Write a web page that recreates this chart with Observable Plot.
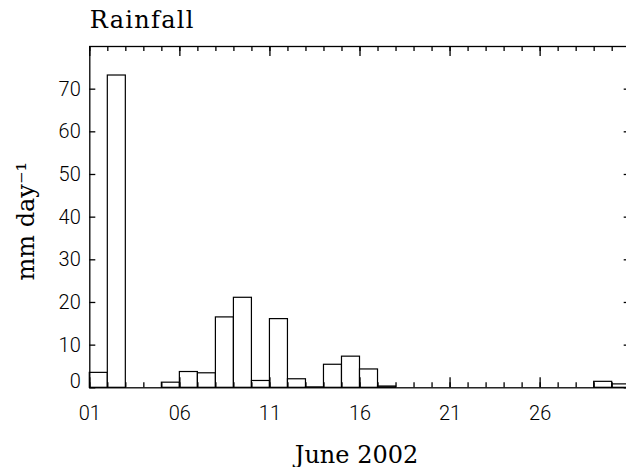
<!DOCTYPE html>
<html>
<head>
<meta charset="utf-8">
<script src="https://cdn.jsdelivr.net/npm/d3@7"></script>
<script src="https://cdn.jsdelivr.net/npm/@observablehq/plot@0.6"></script>
<style>
  html, body { margin: 0; padding: 0; background: #fff; }
  svg { display: block; }
  .title-text text { letter-spacing: 1.3px; }
</style>
</head>
<body>
<div id="chart"></div>
<script>
// ---- data ----
const days = [1, 2, 3, 4, 5, 6, 7, 8, 9, 10, 11, 12, 13, 14, 15, 16, 17, 18, 19, 20, 21, 22, 23, 24, 25, 26, 27, 28, 29, 30];
const rainfall = [3.5, 73.2, 0, 0, 1.2, 3.7, 3.4, 16.5, 21.1, 1.6, 16.1, 2.0, 0.1, 5.4, 7.3, 4.3, 0.3, 0, 0, 0, 0, 0, 0, 0, 0, 0, 0, 0, 1.4, 0.8];
const xMinorTicks = [1, 2, 3, 4, 5, 6, 7, 8, 9, 10, 11, 12, 13, 14, 15, 16, 17, 18, 19, 20, 21, 22, 23, 24, 25, 26, 27, 28, 29, 30, 31];
const xMajorTicks = [1, 6, 11, 16, 21, 26, 31];
const xTickLabels = ["01", "06", "11", "16", "21", "26", ""];
const yTicks = [0, 10, 20, 30, 40, 50, 60, 70];
const yTickLabels = ["0", "10", "20", "30", "40", "50", "60", "70"];
const xDomain = [1, 31];
const yDomain = [0, 80];
const titleText = "Rainfall";
const xTitle = "June 2002";
const yTitle = "mm day\u207B\u00B9";

const data = days.map((d, i) => ({day: d, next: d + 1, mm: rainfall[i]}));

const serif = "DejaVu Serif";
const sans = "Roboto";
const tickFontSize = 20;

const W = 626, H = 467;
const mL = 89.3, mT = 46, mB = H - 387.3, mR = W - 629.7;
const frameW = W - mL - mR, frameH = H - mT - mB;

const yLab = v => yTickLabels[yTicks.indexOf(v)];
const xLab = v => xTickLabels[xMajorTicks.indexOf(v)];

const labelOnly = {tickSize: 0, label: null, fontSize: tickFontSize, fontFamily: sans, fontWeight: 300, fill: "#000"};
const minorLen = 5, majorLen = 10, yLen = 6;
const tickStyle = {stroke: "#000", strokeWidth: 1.3};

const chart = Plot.plot({
  width: W,
  height: H,
  marginLeft: mL,
  marginRight: mR,
  marginTop: mT,
  marginBottom: mB,
  style: {background: "#fff", overflow: "hidden", color: "#000"},
  x: {domain: xDomain},
  y: {domain: yDomain},
  marks: [
    Plot.rect(data, {x1: "day", x2: "next", y1: () => 0, y2: "mm", fill: "#fff", stroke: "#000", strokeWidth: 1.2, inset: 0}),
    // x ticks, drawn inward on bottom and top
    Plot.ruleX(xMinorTicks, {x: d => d, insetTop: frameH - minorLen, ...tickStyle}),
    Plot.ruleX(xMinorTicks, {x: d => d, insetBottom: frameH - minorLen, ...tickStyle}),
    Plot.ruleX(xMajorTicks, {x: d => d, insetTop: frameH - majorLen, ...tickStyle}),
    Plot.ruleX(xMajorTicks, {x: d => d, insetBottom: frameH - majorLen, ...tickStyle}),
    Plot.axisX(xMajorTicks, {anchor: "bottom", tickPadding: 18, tickFormat: xLab, ...labelOnly}),
    // y ticks, drawn inward on left and right
    Plot.ruleY(yTicks, {y: d => d, insetRight: frameW - yLen, ...tickStyle}),
    Plot.ruleY(yTicks, {y: d => d, insetLeft: frameW - yLen, ...tickStyle}),
    Plot.axisY(yTicks.filter(v => v !== 0), {anchor: "left", tickPadding: 9, tickFormat: yLab, ...labelOnly}),
    Plot.axisY(yTicks.filter(v => v === 0), {anchor: "left", tickPadding: 9, dy: -6, tickFormat: yLab, ...labelOnly}),
    Plot.frame({stroke: "#000", strokeWidth: 1.3}),
    // titles
    Plot.text([titleText], {frameAnchor: "top-left", textAnchor: "start", lineAnchor: "bottom", dx: 0, dy: -18.7, fontSize: 24, fontFamily: serif, fill: "#000", className: "title-text"}),
    Plot.text([xTitle], {frameAnchor: "bottom", textAnchor: "middle", lineAnchor: "bottom", dx: -3.5, dy: 74.7, fontSize: 24, fontFamily: serif, fill: "#000"}),
    Plot.text([yTitle], {frameAnchor: "left", rotate: -90, textAnchor: "middle", lineAnchor: "bottom", dx: -55.8, dy: 4, fontSize: 24, fontFamily: serif, fill: "#000"})
  ]
});
document.getElementById("chart").appendChild(chart);
</script>
</body>
</html>
